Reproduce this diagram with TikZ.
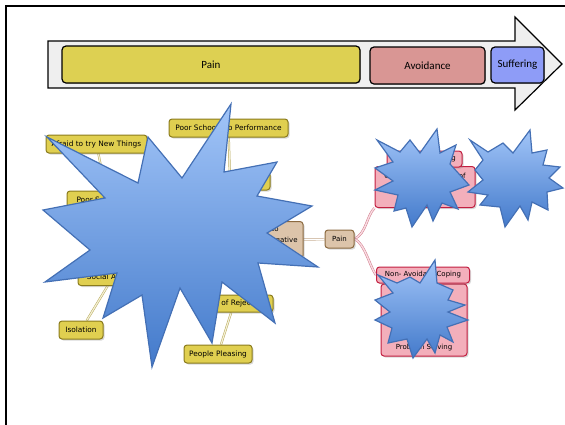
\documentclass[tikz,border=0pt]{standalone}
\usepackage{fontspec}
\setmainfont{DejaVu Sans}
\newfontfamily\barfont{Carlito}
\usetikzlibrary{shadows,backgrounds}
\definecolor{barbg}{HTML}{EFEFEF}
\definecolor{painbar}{HTML}{DDD052}
\definecolor{avoidbar}{HTML}{D99694}
\definecolor{suffbar}{HTML}{8E9CF7}
\definecolor{yfill}{HTML}{E0CF50}
\definecolor{yedge}{HTML}{8A7B1C}
\definecolor{ylinkc}{HTML}{B8AA5C}
\definecolor{ylinkin}{HTML}{F4F0D6}
\definecolor{tfill}{HTML}{DCC4AA}
\definecolor{tedge}{HTML}{8C6A40}
\definecolor{tlinkc}{HTML}{C2A688}
\definecolor{pfill}{HTML}{F3AFBB}
\definecolor{pedge}{HTML}{C21E40}
\definecolor{plinkc}{HTML}{D27A8A}
\definecolor{plinkin}{HTML}{F8DCE2}
\definecolor{bursttop}{HTML}{A2C5F8}
\definecolor{burstbot}{HTML}{437ACB}
\definecolor{burstedge}{HTML}{4470B5}
\tikzset{
  barbox/.style={draw=black, line width=1.2pt, rounded corners=4pt, inner sep=0pt,
    font=\barfont\fontsize{11}{13}\selectfont,
    drop shadow={shadow xshift=0.8pt, shadow yshift=-0.8pt, opacity=0.45}},
  mapnode/.style={line width=1pt, rounded corners=3pt, inner sep=0pt, align=center,
    font=\fontsize{7}{8}\selectfont,
    drop shadow={shadow xshift=1.5pt, shadow yshift=-1.5pt, opacity=0.3}},
  ynode/.style={mapnode, draw=yedge, fill=yfill, minimum height=18pt, font=\fontsize{7.4}{8.5}\selectfont},
  tnode/.style={mapnode, draw=tedge, fill=tfill},
  pnode/.style={mapnode, draw=pedge, fill=pfill},
  ylink/.style={draw=ylinkc, line width=0.5pt, double=ylinkin, double distance=1.2pt},
  tlink/.style={draw=tlinkc, line width=0.5pt, double=white, double distance=1.4pt},
  plink/.style={draw=plinkc, line width=0.5pt, double=plinkin, double distance=1.4pt},
  burst/.style={draw=burstedge, line width=1.2pt, line join=miter, top color=bursttop, bottom color=burstbot}
}
\begin{document}
\begin{tikzpicture}[x=1pt,y=-1pt]
\useasboundingbox (0,0) rectangle (565,424);

% page frame
\begin{scope}
  \clip (0,0) rectangle (565,424);
  \draw[line width=1.8pt] (6,430) -- (6,6) -- (572,6);
\end{scope}

% process arrow with its three stages
\draw[fill=barbg, line width=1.2pt, line join=miter]
  (48,41) -- (515,41) -- (515,17) -- (562,64) -- (515,110) -- (515,88) -- (48,88) -- cycle;
\node[barbox, fill=painbar, minimum width=298pt, minimum height=37pt] (barpain) at (211,64.5) {Pain};
\node[barbox, fill=avoidbar, minimum width=115pt, minimum height=37pt] (baravoid) at (427.5,65.5) {Avoidance};
\node[barbox, fill=suffbar, minimum width=53pt, minimum height=36pt] (barsuff) at (517.5,65) {Suffering};

% mind map nodes
\node[tnode, minimum width=90pt, minimum height=37pt, font=\fontsize{7}{11}\selectfont] (core) at (258,240)
  {Unwilling to\\Experiencing Negative\\Emotions};
\node[tnode, minimum width=29pt, minimum height=18pt] (pain) at (339.5,239) {Pain};

\node[ynode, minimum width=81pt] (poorsoc) at (107.5,200) {Poor Social Skills};
\node[ynode, minimum width=101pt] (afraid) at (96.5,144) {Afraid to try New Things};
\node[ynode, minimum width=80pt] (esteem) at (230,181) {Low Self-Esteem};
\node[ynode, minimum width=119pt] (school) at (228.5,128) {Poor School/Job Performance};
\node[ynode, minimum width=70pt, minimum height=17pt] (anxiety) at (113,277) {Social Anxiety};
\node[ynode, minimum width=44pt] (isolation) at (81,330) {Isolation};
\node[ynode, minimum width=78pt, minimum height=17pt] (reject) at (234,303.5) {Fear of Rejection};
\node[ynode, minimum width=68pt] (pleasing) at (218,354) {People Pleasing};

\node[pnode, minimum width=100pt, minimum height=41pt, font=\fontsize{7}{11.5}\selectfont] (avbody) at (425,187)
  {Compulsive Overuse of\\Alcohol \& Drugs\\Withdrawal};
\node[pnode, minimum width=75pt, minimum height=16pt] (avhead) at (424.5,159) {Avoidance Coping};
\node[pnode, minimum width=86pt, minimum height=72pt, font=\fontsize{7}{14}\selectfont] (nabody) at (424,320)
  {Mindful Activity\\Relaxation Skills\\Exercise\\Social Support\\Problem Solving};
\node[pnode, minimum width=93pt, minimum height=16pt] (nahead) at (423,275) {Non- Avoidant Coping};

% connectors, kept behind the nodes
\begin{pgfonlayer}{background}
  \draw[ylink] (afraid) -- (poorsoc);
  \draw[ylink] (school) -- (esteem);
  \draw[ylink] (anxiety) -- (isolation);
  \draw[ylink] (reject) -- (pleasing);
  \draw[ylink] (core) -- (poorsoc);
  \draw[ylink] (core) -- (esteem);
  \draw[ylink] (core) -- (anxiety);
  \draw[ylink] (core) -- (reject);
  \draw[tlink] (core) -- (pain);
  \draw[plink] (pain.east) .. controls +(12,-6) and +(-8,8) .. (avbody.south west);
  \draw[plink] (pain.east) .. controls +(10,4) and +(-6,-8) .. (nahead.west);
\end{pgfonlayer}

% starbursts laid over the map
\draw[burst] (231,104) -- (224,172) -- (277,162) -- (257,196) -- (312,206) -- (267,233)
  -- (318,267) -- (258,263) -- (275,323) -- (222,282) -- (212,343) -- (180,288)
  -- (152,367) -- (142,295) -- (103,318) -- (117,273) -- (45,282) -- (90,250)
  -- (43,210) -- (105,198) -- (47,137) -- (138,183) -- (148,137) -- (182,178) -- cycle;
\draw[burst] (377,140) -- (400,152) -- (410,140) -- (420,153) -- (437,129) -- (440,153)
  -- (456,145) -- (450,164) -- (469,185) -- (450,192) -- (458,209) -- (442,203)
  -- (433,221) -- (427,205) -- (412,227) -- (406,208) -- (394,211) -- (398,195)
  -- (375,190) -- (393,181) -- (375,168) -- (393,162) -- cycle;
\draw[burst] (470,140) -- (488,152) -- (503,143) -- (513,153) -- (530,130) -- (532,153)
  -- (547,150) -- (543,165) -- (560,167) -- (549,178) -- (563,188) -- (547,192)
  -- (548,210) -- (532,202) -- (528,220) -- (520,206) -- (505,227) -- (500,207)
  -- (480,205) -- (488,195) -- (468,192) -- (483,180) -- (475,170) -- (483,160) -- cycle;
\draw[burst] (378,275) -- (397,283) -- (410,277) -- (420,283) -- (435,260) -- (437,283)
  -- (453,290) -- (448,300) -- (465,305) -- (448,312) -- (468,320) -- (447,327)
  -- (453,342) -- (440,335) -- (435,353) -- (427,339) -- (413,358) -- (407,339)
  -- (388,343) -- (392,328) -- (375,320) -- (390,312) -- (375,300) -- (393,293) -- cycle;
\end{tikzpicture}
\end{document}
